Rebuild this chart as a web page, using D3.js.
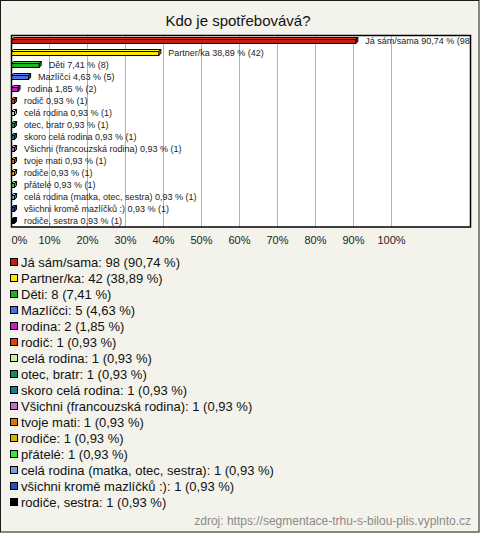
<!DOCTYPE html>
<html><head><meta charset="utf-8">
<script src="https://cdn.jsdelivr.net/npm/d3@7"></script>
<style>body{margin:0;background:#f3f3eb;} svg{display:block;}</style>
</head><body>
<svg id="c" width="480" height="533"></svg>
<script>
const title = "Kdo je spotřebovává?";
const categories = ["Já sám/sama","Partner/ka","Děti","Mazlíčci","rodina","rodič","celá rodina","otec, bratr","skoro celá rodina","Všichni (francouzská rodina)","tvoje mati","rodiče","přátelé","celá rodina (matka, otec, sestra)","všichni kromě mazlíčků :)","rodiče, sestra"];
const counts = [98,42,8,5,2,1,1,1,1,1,1,1,1,1,1,1];
const percents = [90.74,38.89,7.41,4.63,1.85,0.93,0.93,0.93,0.93,0.93,0.93,0.93,0.93,0.93,0.93,0.93];
const colors = ["#c0200c","#ffe400","#1fb41f","#4a70e0","#c41ec8","#e0400c","#c8f0a0","#10905c","#1a7890","#c070c8","#e07010","#e0b000","#40e040","#78a0e0","#2050c0","#000000"];
const tickValues = [0,0.1,0.2,0.3,0.4,0.5,0.6,0.7,0.8,0.9,1.0];
const source = "zdroj: https://segmentace-trhu-s-bilou-plis.vyplnto.cz";

const fmt = v => v.toFixed(2).replace(".", ",");
const svg = d3.select("#c");
const W = 480, H = 533;
svg.append("rect").attr("x",0.5).attr("y",0.5).attr("width",W-1.5).attr("height",H-1.5)
  .attr("fill","#f3f3eb").attr("stroke","#1a1a1a").attr("stroke-width",1);

svg.append("text").attr("x",238).attr("y",26).attr("text-anchor","middle")
  .attr("font-family","Liberation Sans, Arial, sans-serif").attr("font-size",15).attr("fill","#111").text(title);

const pl = 11, pr = 470, pt = 35, pb = 227;
const x = d3.scaleLinear().domain([0,(pr-pl)/380]).range([pl,pr]);
const y = d3.scaleBand().domain(categories).range([pt,pb]);

svg.append("rect").attr("x",pl).attr("y",pt).attr("width",pr-pl).attr("height",pb-pt).attr("fill","#fff");
const grid = svg.append("g");
grid.selectAll("line").data(tickValues.slice(1)).join("line")
  .attr("x1",d=>Math.round(x(d))+0.5).attr("x2",d=>Math.round(x(d))+0.5)
  .attr("y1",pt).attr("y2",pb).attr("stroke","#b4b4b4").attr("stroke-width",1);

svg.append("defs").append("clipPath").attr("id","clip").append("rect")
  .attr("x",pl).attr("y",pt).attr("width",pr-pl).attr("height",pb-pt);
const plot = svg.append("g").attr("clip-path","url(#clip)");

const d = 2, h = 4;
categories.forEach((c,i)=>{
  const cy = y(c) + y.bandwidth()/2;
  const x0 = x(0)+0.5, x1 = x(percents[i]/100);
  const top = cy-1.5, bot = top+h;
  const col = colors[i];
  const g = plot.append("g").attr("stroke","#000").attr("stroke-width",1).attr("stroke-linejoin","miter");
  g.append("polygon").attr("points",[[x0,top],[x0+d,top-d],[x1+d,top-d],[x1,top]].join(" "))
    .attr("fill",d3.color(col).brighter(0.6));
  g.append("polygon").attr("points",[[x1,top],[x1+d,top-d],[x1+d,bot-d],[x1,bot]].join(" "))
    .attr("fill",d3.color(col).darker(0.6));
  g.append("rect").attr("x",x0).attr("y",top).attr("width",Math.max(0,x1-x0)).attr("height",h).attr("fill",col);
  plot.append("text").attr("x",x1+9.5).attr("y",cy+3)
    .attr("font-family","Liberation Sans, Arial, sans-serif").attr("font-size",9).attr("fill","#222")
    .text(`${c} ${fmt(percents[i])} % (${counts[i]})`);
});

svg.append("rect").attr("x",pl+0.5).attr("y",pt+0.5).attr("width",pr-pl).attr("height",pb-pt-0.5)
  .attr("fill","none").attr("stroke","#000").attr("stroke-width",1.5);

const axis = d3.axisBottom(x).tickValues(tickValues).tickFormat(d3.format(".0%")).tickSize(0).tickPadding(0);
const ax = svg.append("g").attr("transform",`translate(0,${pb+17})`).call(axis);
ax.select(".domain").remove();
ax.selectAll("text").attr("font-family","Liberation Sans, Arial, sans-serif").attr("font-size",11).attr("fill","#222").attr("dy","0");
ax.selectAll(".tick").filter(v=>v===0).select("text").attr("text-anchor","start");

const leg = svg.append("g");
categories.forEach((c,i)=>{
  const cy = 262 + i*16;
  leg.append("rect").attr("x",10.5).attr("y",cy-3.5).attr("width",7).attr("height",7)
    .attr("fill",colors[i]).attr("stroke","#000").attr("stroke-width",1);
  leg.append("text").attr("x",21).attr("y",cy+5)
    .attr("font-family","Liberation Sans, Arial, sans-serif").attr("font-size",13).attr("fill","#111")
    .text(`${c}: ${counts[i]} (${fmt(percents[i])} %)`);
});

svg.append("text").attr("x",471).attr("y",525).attr("text-anchor","end")
  .attr("font-family","Liberation Sans, Arial, sans-serif").attr("font-size",12).attr("fill","#8a8a8a").text(source);
</script>
</body></html>
